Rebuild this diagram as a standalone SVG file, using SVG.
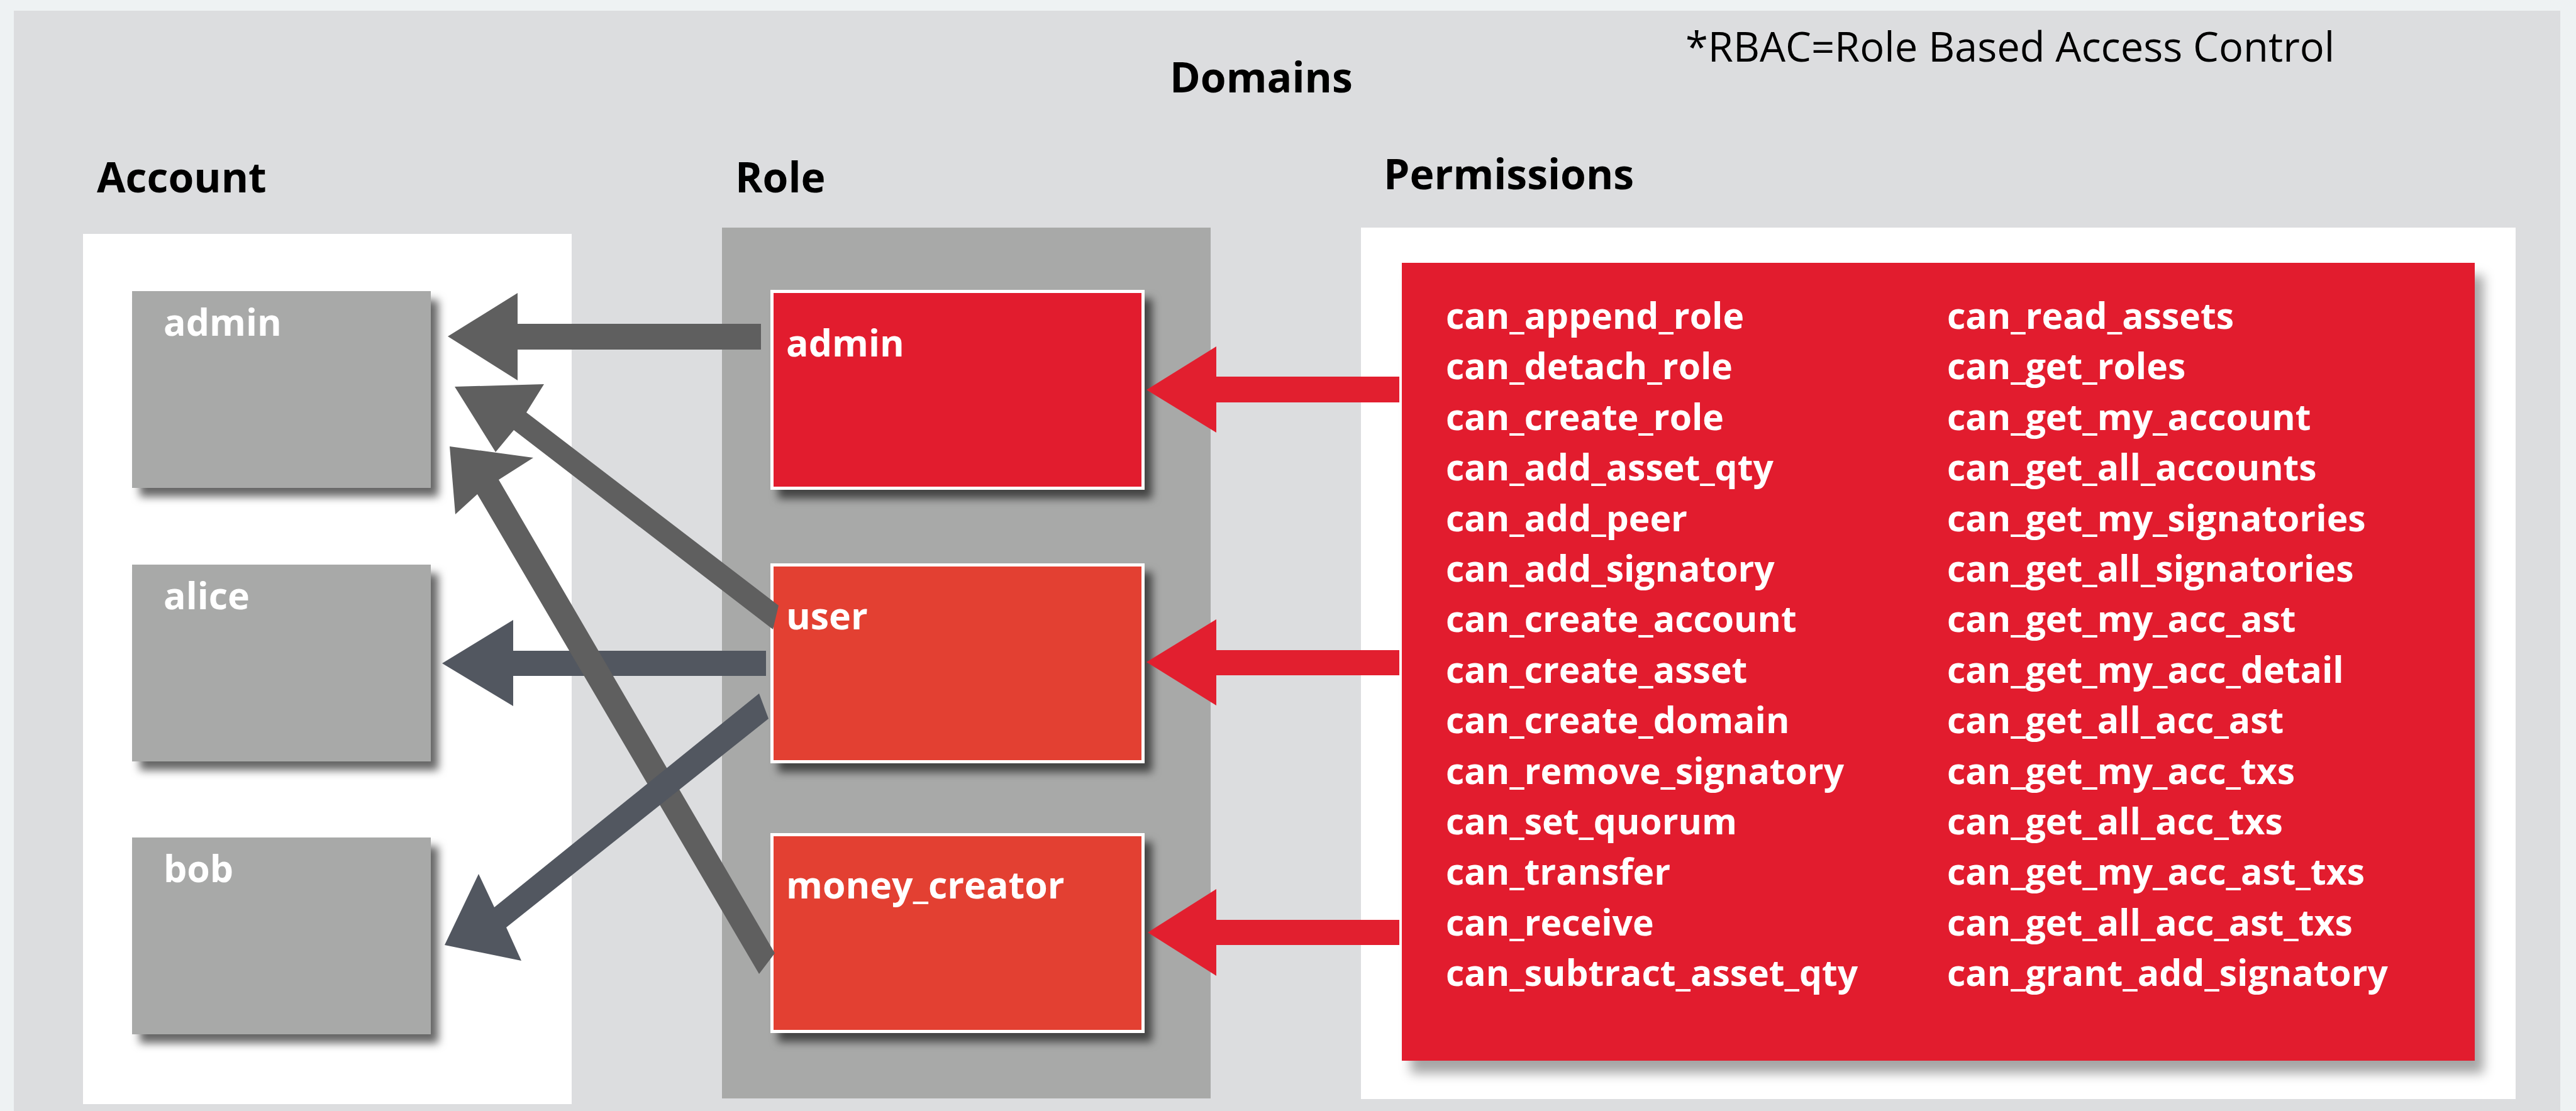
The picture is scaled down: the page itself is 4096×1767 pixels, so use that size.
<svg xmlns="http://www.w3.org/2000/svg" width="4096" height="1767" viewBox="0 0 4096 1767">
  <defs>
    <filter id="shadow" x="-10%" y="-10%" width="130%" height="130%">
      <feDropShadow dx="12" dy="14" stdDeviation="7" flood-color="#000" flood-opacity="0.6"/>
    </filter>
    <filter id="shadowSoft" x="-5%" y="-5%" width="115%" height="115%">
      <feDropShadow dx="14" dy="20" stdDeviation="9" flood-color="#000" flood-opacity="0.35"/>
    </filter>
    <style>
      .head { font-family: "Open Sans", "Noto Sans", "Liberation Sans", sans-serif; font-weight: 700; font-size: 66px; fill: #000; }
      .note { font-family: "Open Sans", "Noto Sans", "Liberation Sans", sans-serif; font-weight: 400; font-size: 65px; fill: #000; }
      .label { font-family: "Open Sans", "Noto Sans", "Liberation Sans", sans-serif; font-weight: 700; font-size: 59px; fill: #fff; }
      .perm { font-family: "Open Sans", "Noto Sans", "Liberation Sans", sans-serif; font-weight: 700; font-size: 57px; fill: #fff; }
      .acct { fill: #a8a9a8; filter: url(#shadow); }
      .role { stroke: #fff; stroke-width: 5; filter: url(#shadow); }
      .gray { fill: #5f5f5f; }
      .dark { fill: #525760; }
      .red { fill: #e21f2f; }
    </style>
  </defs>

  <!-- page and domain panel -->
  <rect x="0" y="0" width="4096" height="1767" fill="#eef2f3"/>
  <rect x="22" y="17" width="4049" height="1760" fill="#dcdddf"/>

  <!-- column panels -->
  <rect x="132" y="372" width="777" height="1384" fill="#fff"/>
  <rect x="1148" y="362" width="777" height="1385" fill="#a8a9a8"/>
  <rect x="2164" y="362" width="1836" height="1386" fill="#fff"/>

  <!-- headings -->
  <text class="head" x="1860" y="147">Domains</text>
  <text class="head" x="154" y="306">Account</text>
  <text class="head" x="1169" y="306">Role</text>
  <text class="head" x="2200" y="301">Permissions</text>
  <text class="note" x="2680" y="98">*RBAC=Role Based Access Control</text>

  <!-- accounts -->
  <g id="account-admin">
    <rect class="acct" x="210" y="463" width="475" height="313"/>
    <text class="label" x="260" y="534">admin</text>
  </g>
  <g id="account-alice">
    <rect class="acct" x="210" y="898" width="475" height="313"/>
    <text class="label" x="260" y="969">alice</text>
  </g>
  <g id="account-bob">
    <rect class="acct" x="210" y="1332" width="475" height="313"/>
    <text class="label" x="260" y="1403">bob</text>
  </g>

  <!-- roles -->
  <g id="role-admin">
    <rect class="role" x="1227.5" y="463.5" width="590" height="313" fill="#e21f2f"/>
    <text class="label" x="1250" y="567">admin</text>
  </g>
  <g id="role-user">
    <rect class="role" x="1227.5" y="898.5" width="590" height="313" fill="#e34132"/>
    <text class="label" x="1250" y="1001">user</text>
  </g>
  <g id="role-money_creator">
    <rect class="role" x="1227.5" y="1327.5" width="590" height="313" fill="#e34132"/>
    <text class="label" x="1250" y="1429">money_creator</text>
  </g>

  <!-- permissions -->
  <g id="permissions">
    <rect x="2229" y="418" width="1706" height="1269" fill="#e21f2f" filter="url(#shadowSoft)"/>
    <g class="perm">
      <text x="2299" y="523">can_append_role</text>
      <text x="2299" y="603">can_detach_role</text>
      <text x="2299" y="684">can_create_role</text>
      <text x="2299" y="764">can_add_asset_qty</text>
      <text x="2299" y="845">can_add_peer</text>
      <text x="2299" y="925">can_add_signatory</text>
      <text x="2299" y="1005">can_create_account</text>
      <text x="2299" y="1086">can_create_asset</text>
      <text x="2299" y="1166">can_create_domain</text>
      <text x="2299" y="1247">can_remove_signatory</text>
      <text x="2299" y="1327">can_set_quorum</text>
      <text x="2299" y="1407">can_transfer</text>
      <text x="2299" y="1488">can_receive</text>
      <text x="2299" y="1568">can_subtract_asset_qty</text>
      <text x="3096" y="523">can_read_assets</text>
      <text x="3096" y="603">can_get_roles</text>
      <text x="3096" y="684">can_get_my_account</text>
      <text x="3096" y="764">can_get_all_accounts</text>
      <text x="3096" y="845">can_get_my_signatories</text>
      <text x="3096" y="925">can_get_all_signatories</text>
      <text x="3096" y="1005">can_get_my_acc_ast</text>
      <text x="3096" y="1086">can_get_my_acc_detail</text>
      <text x="3096" y="1166">can_get_all_acc_ast</text>
      <text x="3096" y="1247">can_get_my_acc_txs</text>
      <text x="3096" y="1327">can_get_all_acc_txs</text>
      <text x="3096" y="1407">can_get_my_acc_ast_txs</text>
      <text x="3096" y="1488">can_get_all_acc_ast_txs</text>
      <text x="3096" y="1568">can_grant_add_signatory</text>
    </g>
  </g>

  <!-- connectors: block arrows -->
  <g id="connectors">
    <!-- role admin -> account admin -->
    <polygon class="gray" points="1210,515 823,515 823,466 712,535 823,605 823,556 1210,556"/>
    <!-- role user -> account alice -->
    <polygon class="dark" points="1218,1035 816,1035 816,986 703,1055 816,1123 816,1075 1218,1075"/>
    <!-- role user -> account admin -->
    <polygon class="gray" points="1238,963 837,656 865,611 723,615 788,719 817,684 1229,1001"/>
    <!-- role money_creator -> account admin -->
    <polygon class="gray" points="1232,1516 793,763 848,728 715,710 724,818 759,786 1207,1549"/>
    <!-- role user -> account bob -->
    <polygon class="dark" points="1207,1103 786,1443 761,1390 707,1503 829,1528 805,1475 1222,1143"/>
    <!-- permissions -> roles -->
    <polygon class="red" points="2225,599 1934,599 1934,551 1823,620 1934,688 1934,640 2225,640"/>
    <polygon class="red" points="2225,1034 1934,1034 1934,985 1823,1053 1934,1122 1934,1074 2225,1074"/>
    <polygon class="red" points="2225,1463 1934,1463 1934,1414 1825,1483 1934,1552 1934,1503 2225,1503"/>
  </g>
</svg>
